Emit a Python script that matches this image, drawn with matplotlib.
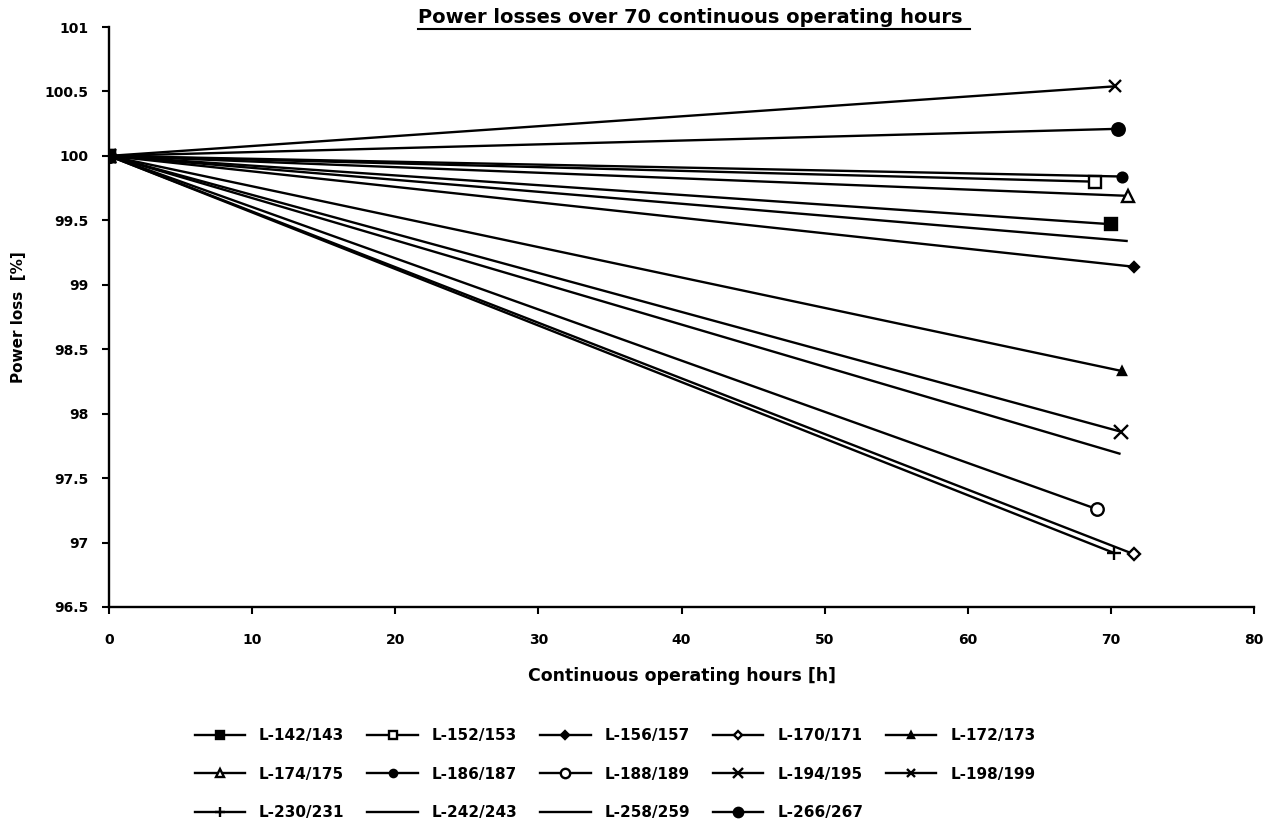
import matplotlib.pyplot as plt
from matplotlib.lines import Line2D

plt.rcParams['font.family'] = ['DejaVu Sans']
plt.rcParams['font.weight'] = 'bold'

# series names, end points (start is always 0 h / 100 %)
names = ['L-142/143', 'L-152/153', 'L-156/157', 'L-170/171', 'L-172/173',
         'L-174/175', 'L-186/187', 'L-188/189', 'L-194/195', 'L-198/199',
         'L-230/231', 'L-242/243', 'L-258/259', 'L-266/267']
end_hours = [70.0, 68.9, 71.6, 71.6, 70.8,
             71.2, 70.8, 69.0, 70.7, 70.3,
             70.2, 70.6, 71.1, 70.5]
end_loss = [99.47, 99.80, 99.14, 96.91, 98.33,
            99.69, 99.84, 97.26, 97.86, 100.54,
            96.92, 97.69, 99.34, 100.21]
start_hours = 0
start_loss = 100

# marker, filled?
styles = [('s', True), ('s', False), ('D', True), ('D', False), ('^', True),
          ('^', False), ('o', True), ('o', False), ('x', True), ('x', True),
          ('+', True), (None, True), (None, True), ('o', True)]
sizes = [8, 8, 5, 6, 6, 8, 7, 9, 10, 8, 10, 0, 0, 9]

fig = plt.figure(figsize=(12.71, 8.19), dpi=100)
ax = fig.add_axes([0.0858, 0.2589, 0.9008, 0.7081])

handles = []
for i, name in enumerate(names):
    m, filled = styles[i]
    h, = ax.plot([start_hours, end_hours[i]], [start_loss, end_loss[i]],
                 color='black', lw=1.7, marker=m, ms=sizes[i],
                 mfc='black' if filled else 'white', mec='black', mew=1.7,
                 label=name)
    handles.append(h)

ax.set_xlim(0, 80)
ax.set_ylim(96.5, 101)
ax.set_xticks(range(0, 81, 10))
ax.set_yticks([96.5, 97, 97.5, 98, 98.5, 99, 99.5, 100, 100.5, 101])
ax.set_yticklabels(['96.5', '97', '97.5', '98', '98.5', '99', '99.5', '100', '100.5', '101'])
for s in ['top', 'right']:
    ax.spines[s].set_visible(False)
for s in ['left', 'bottom']:
    ax.spines[s].set_linewidth(1.7)
ax.tick_params(axis='both', labelsize=10, width=1.5, length=5, direction='out')
ax.tick_params(axis='x', pad=14)
ax.tick_params(axis='y', pad=10)

ax.set_xlabel('Continuous operating hours [h]', fontsize=12.5, fontweight='bold', labelpad=14)
ax.set_ylabel('Power loss  [%]', fontsize=11, fontweight='bold', labelpad=13)

title = fig.text(0.543, 0.979, 'Power losses over 70 continuous operating hours',
                 ha='center', va='center', fontsize=14, fontweight='bold')
fig.canvas.draw()
bb = title.get_window_extent().transformed(fig.transFigure.inverted())
fig.add_artist(Line2D([bb.x0, bb.x1 + 0.006], [bb.y0 - 0.003, bb.y0 - 0.003],
                      color='black', lw=1.5, transform=fig.transFigure))

# legend is filled column by column, reorder so it reads row by row
order = [0, 5, 10, 1, 6, 11, 2, 7, 12, 3, 8, 13, 4, 9]
fig.legend([handles[k] for k in order], [names[k] for k in order],
           loc='upper center', bbox_to_anchor=(0.484, 0.128), ncol=5,
           frameon=False, fontsize=11, handlelength=3.3, columnspacing=1.5,
           labelspacing=1.55, handletextpad=0.9, markerscale=0.75)

fig.savefig('out.png', dpi=100)
